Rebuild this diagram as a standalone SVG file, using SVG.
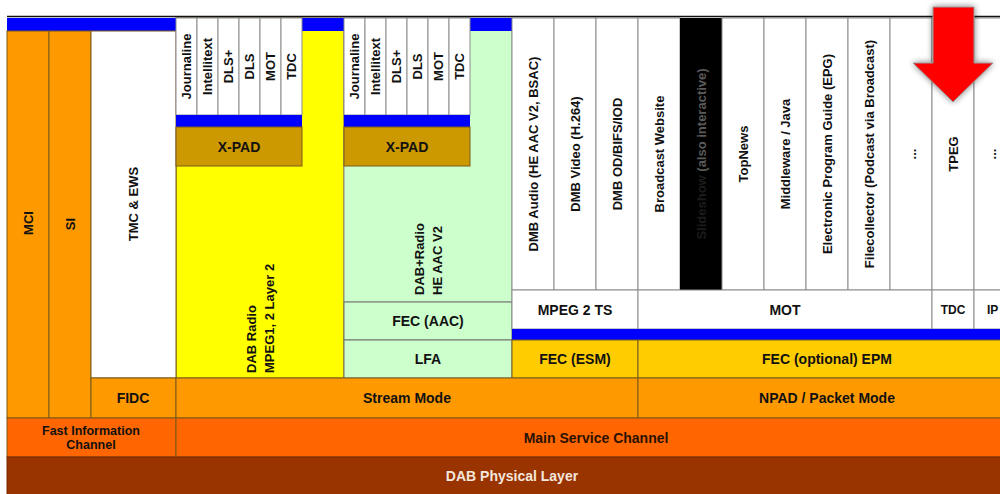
<svg xmlns="http://www.w3.org/2000/svg" width="1000" height="494" viewBox="0 0 1000 494">
<defs>
<style>
text{font-family:"Liberation Sans",Arial,sans-serif;font-weight:bold;fill:#111;}
.h{font-size:14px;text-anchor:middle;dominant-baseline:central;}
.v{font-size:13px;text-anchor:middle;dominant-baseline:central;}
.vs{font-size:13px;text-anchor:start;dominant-baseline:central;}
.o{stroke:#7a5a1a;stroke-width:1;}
.w{fill:#fff;stroke:#8c8c8c;stroke-width:1;}
.blue{fill:#0000ff;}
</style>
<filter id="sh" x="-30%" y="-30%" width="160%" height="160%">
<feGaussianBlur in="SourceAlpha" stdDeviation="3"/>
<feComponentTransfer><feFuncA type="linear" slope="0.5"/></feComponentTransfer>
<feMerge><feMergeNode/><feMergeNode in="SourceGraphic"/></feMerge>
</filter>
</defs>
<rect width="1000" height="494" fill="#fff"/>

<!-- background areas -->
<g id="yellow-area"><rect x="176" y="18" width="168" height="360" fill="#ffff00" class="o"/></g>
<g id="green-area"><rect x="344" y="18" width="168" height="284" fill="#ccffcc" stroke="#8c8c8c"/></g>
<g id="top-blue"><rect x="7" y="18" width="505" height="13" class="blue"/></g>

<g id="mci"><rect x="7" y="31" width="42" height="387" fill="#ff9900" class="o"/>
<text class="v" transform="translate(28,223) rotate(-90)">MCI</text></g>
<g id="si"><rect x="49" y="31" width="42" height="387" fill="#ff9900" class="o"/>
<text class="v" transform="translate(70,224) rotate(-90)">SI</text></g>
<g id="tmc"><rect x="91" y="31" width="85" height="347" fill="#fff" class="o"/>
<text class="v" transform="translate(133,204) rotate(-90)">TMC &amp; EWS</text></g>

<!-- X-PAD group 1 -->
<g id="xpad1-apps">
<rect class="w" x="176" y="18" width="21" height="97"/><text class="v" transform="translate(186.5,66.5) rotate(-90)">Journaline</text>
<rect class="w" x="197" y="18" width="21" height="97"/><text class="v" transform="translate(207.5,66.5) rotate(-90)">Intellitext</text>
<rect class="w" x="218" y="18" width="21" height="97"/><text class="v" transform="translate(228.5,66.5) rotate(-90)">DLS+</text>
<rect class="w" x="239" y="18" width="21" height="97"/><text class="v" transform="translate(249.5,66.5) rotate(-90)">DLS</text>
<rect class="w" x="260" y="18" width="21" height="97"/><text class="v" transform="translate(270.5,66.5) rotate(-90)">MOT</text>
<rect class="w" x="281" y="18" width="21" height="97"/><text class="v" transform="translate(291.5,66.5) rotate(-90)">TDC</text>
<rect class="blue" x="176" y="115" width="126" height="12"/>
</g>
<g id="xpad1"><rect x="176" y="127" width="126" height="39" fill="#cc9900" class="o"/>
<text class="h" x="239" y="146.5">X-PAD</text></g>
<g id="dab-radio"><text class="vs" transform="translate(251,373) rotate(-90)">DAB Radio</text>
<text class="vs" transform="translate(269,373) rotate(-90)">MPEG1, 2 Layer 2</text></g>

<!-- X-PAD group 2 -->
<g id="xpad2-apps">
<rect class="w" x="344" y="18" width="21" height="97"/><text class="v" transform="translate(354.5,66.5) rotate(-90)">Journaline</text>
<rect class="w" x="365" y="18" width="21" height="97"/><text class="v" transform="translate(375.5,66.5) rotate(-90)">Intellitext</text>
<rect class="w" x="386" y="18" width="21" height="97"/><text class="v" transform="translate(396.5,66.5) rotate(-90)">DLS+</text>
<rect class="w" x="407" y="18" width="21" height="97"/><text class="v" transform="translate(417.5,66.5) rotate(-90)">DLS</text>
<rect class="w" x="428" y="18" width="21" height="97"/><text class="v" transform="translate(438.5,66.5) rotate(-90)">MOT</text>
<rect class="w" x="449" y="18" width="21" height="97"/><text class="v" transform="translate(459.5,66.5) rotate(-90)">TDC</text>
<rect class="blue" x="344" y="115" width="126" height="12"/>
</g>
<g id="xpad2"><rect x="344" y="127" width="126" height="39" fill="#cc9900" class="o"/>
<text class="h" x="407" y="146.5">X-PAD</text></g>
<g id="dabplus-radio"><text class="vs" transform="translate(419,295) rotate(-90)">DAB+Radio</text>
<text class="vs" transform="translate(437,295) rotate(-90)">HE AAC V2</text></g>
<g id="fec-aac"><rect x="344" y="302" width="168" height="38" fill="#ccffcc" stroke="#6f6f6f"/>
<text class="h" x="428" y="321">FEC (AAC)</text></g>
<g id="lfa"><rect x="344" y="340" width="168" height="38" fill="#ccffcc" stroke="#6f6f6f"/>
<text class="h" x="428" y="359">LFA</text></g>

<!-- right application columns -->
<g id="apps">
<rect class="w" x="512" y="18" width="42" height="272"/><text class="v" transform="translate(533,154) rotate(-90)">DMB Audio (HE AAC V2, BSAC)</text>
<rect class="w" x="554" y="18" width="42" height="272"/><text class="v" transform="translate(575,154) rotate(-90)">DMB Video (H.264)</text>
<rect class="w" x="596" y="18" width="42" height="272"/><text class="v" transform="translate(617,154) rotate(-90)">DMB OD/BIFS/IOD</text>
<rect class="w" x="638" y="18" width="42" height="272"/><text class="v" transform="translate(659,154) rotate(-90)">Broadcast Website</text>
<rect x="680" y="18" width="42" height="272" fill="#000"/><text class="v" transform="translate(701,154) rotate(-90)"><tspan style="fill:#1c1c1c">Slideshow</tspan><tspan style="fill:#5a5a5a"> (also interactive)</tspan></text>
<rect class="w" x="722" y="18" width="42" height="272"/><text class="v" transform="translate(743,154) rotate(-90)">TopNews</text>
<rect class="w" x="764" y="18" width="42" height="272"/><text class="v" transform="translate(785,154) rotate(-90)">Middleware / Java</text>
<rect class="w" x="806" y="18" width="42" height="272"/><text class="v" transform="translate(827,154) rotate(-90)">Electronic Program Guide (EPG)</text>
<rect class="w" x="848" y="18" width="42" height="272"/><text class="v" transform="translate(869,154) rotate(-90)">Filecollector (Podcast via Broadcast)</text>
<rect class="w" x="890" y="18" width="42" height="272"/><text class="v" transform="translate(911,154) rotate(-90)">...</text>
<rect class="w" x="932" y="18" width="42" height="272"/><text class="v" transform="translate(953,154) rotate(-90)">TPEG</text>
<rect class="w" x="974" y="18" width="42" height="272"/><text class="v" transform="translate(991,154) rotate(-90)">...</text>
</g>

<g id="transport">
<rect class="w" x="512" y="290" width="126" height="39"/><text class="h" x="575" y="309.5">MPEG 2 TS</text>
<rect class="w" x="638" y="290" width="294" height="39"/><text class="h" x="785" y="309.5">MOT</text>
<rect class="w" x="932" y="290" width="42" height="39"/><text class="h" x="953" y="309.5" style="font-size:12px">TDC</text>
<rect class="w" x="974" y="290" width="42" height="39"/><text class="h" x="987" y="309.5" style="font-size:12px;text-anchor:start">IP</text>
<rect class="blue" x="512" y="329" width="488" height="11"/>
</g>
<g id="fec-esm"><rect x="512" y="340" width="126" height="38" fill="#ffcc00" class="o"/>
<text class="h" x="575" y="359">FEC (ESM)</text></g>
<g id="fec-epm"><rect x="638" y="340" width="380" height="38" fill="#ffcc00" class="o"/>
<text class="h" x="827" y="359">FEC (optional) EPM</text></g>

<g id="fidc"><rect x="91" y="378" width="85" height="40" fill="#ff9900" class="o"/>
<text class="h" x="133" y="398">FIDC</text></g>
<g id="stream-mode"><rect x="176" y="378" width="462" height="40" fill="#ff9900" class="o"/>
<text class="h" x="407" y="398">Stream Mode</text></g>
<g id="packet-mode"><rect x="638" y="378" width="380" height="40" fill="#ff9900" class="o"/>
<text class="h" x="827" y="398">NPAD / Packet Mode</text></g>

<g id="fic"><rect x="7" y="418" width="169" height="39" fill="#ff6600" class="o"/>
<text class="h" x="91" y="430.5" style="font-size:12.5px">Fast Information</text>
<text class="h" x="91" y="444.5" style="font-size:12.5px">Channel</text></g>
<g id="msc"><rect x="176" y="418" width="842" height="39" fill="#ff6600" class="o"/>
<text class="h" x="596" y="437.5" style="fill:#2a1200">Main Service Channel</text></g>
<g id="phy"><rect x="7" y="457" width="1011" height="40" fill="#993300" stroke="#7a2800"/>
<text class="h" x="512" y="476" style="fill:#f4e6dc">DAB Physical Layer</text></g>

<g id="top-line"><line x1="7" y1="16.5" x2="1000" y2="16.5" stroke="#111" stroke-width="1.6"/></g>

<g id="red-arrow"><polygon points="933,7 974,7 974,63 993,63 953,102 913,63 933,63" fill="#ff0000" stroke="#9a9a9a" stroke-width="1" filter="url(#sh)"/></g>
</svg>
